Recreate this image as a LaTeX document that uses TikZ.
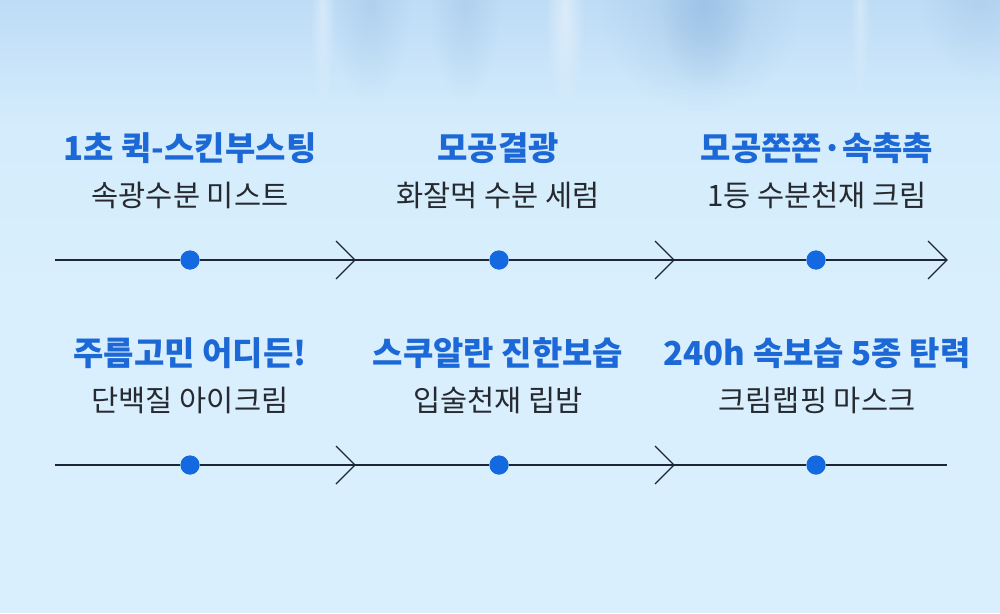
\documentclass[tikz,border=0pt]{standalone}
\usepackage{fontspec}
\setmainfont{Noto Sans CJK KR}
\usetikzlibrary{calc,fadings}
\definecolor{bgtop}{HTML}{BEDCF6}
\definecolor{bgmid}{HTML}{D4ECFC}
\definecolor{bgbot}{HTML}{D9EFFD}
\definecolor{streak}{HTML}{93BBE2}
\definecolor{titleblue}{HTML}{1B68D6}
\definecolor{subdark}{HTML}{262A30}
\definecolor{linedark}{HTML}{1E2633}
\definecolor{dotblue}{HTML}{1468E0}
\tikzfading[name=softblob, inner color=transparent!0, outer color=transparent!100]
\tikzset{
  titletext/.style={anchor=base, inner sep=0pt, text=titleblue, font=\fontsize{33}{36}\selectfont\bfseries},
  subtext/.style={anchor=base, inner sep=0pt, text=subdark, font=\fontsize{29.5}{32}\selectfont},
  dotnode/.style={circle, fill=dotblue, minimum size=19pt, inner sep=0pt},
  tline/.style={draw=linedark, line width=1.2pt},
  chev/.style={draw=linedark, line width=1.2pt, line join=miter},
  streakfill/.style={fill=streak, path fading=softblob},
}
\begin{document}
\begin{tikzpicture}[x=1pt,y=-1pt]
\useasboundingbox (0,0) rectangle (1000,613);
\begin{scope}
\clip (0,0) rectangle (1000,613);
\fill[bgbot] (0,0) rectangle (1000,613);
\shade[top color=bgtop, bottom color=bgmid] (0,0) rectangle (1000,125);
\fill[bgmid] (0,124) rectangle (1000,135);
\shade[top color=bgmid, bottom color=bgbot] (0,134) rectangle (1000,300);
% soft vertical streaks at the top
\fill[streakfill, opacity=0.35] (330,-90) rectangle (410,100);
\fill[streakfill, opacity=0.35] (430,-90) rectangle (500,100);
\fill[streakfill, opacity=0.45] (600,-90) rectangle (800,110);
\fill[streakfill, opacity=0.55] (660,-90) rectangle (750,90);
\fill[streakfill, opacity=0.35] (920,-90) rectangle (1040,80);
\fill[white, path fading=softblob, opacity=0.45] (545,-90) rectangle (585,110);
\fill[white, path fading=softblob, opacity=0.35] (310,-90) rectangle (335,110);
\fill[white, path fading=softblob, opacity=0.30] (850,-90) rectangle (870,100);
\end{scope}

% ---- row 1 texts
\node[titletext] (t1) at (190,160) {1초 퀵-스킨부스팅};
\node[subtext]   (s1) at (190,206) {속광수분 미스트};
\node[titletext] (t2) at (498,160) {모공결광};
\node[subtext]   (s2) at (498,206) {화잘먹 수분 세럼};
\node[titletext] (t3) at (817,160) {모공쫀쫀·속촉촉};
\node[subtext]   (s3) at (817,206) {1등 수분천재 크림};
% ---- row 2 texts
\node[titletext] (t4) at (190,365) {주름고민 어디든!};
\node[subtext]   (s4) at (190,411) {단백질 아이크림};
\node[titletext] (t5) at (498,365) {스쿠알란 진한보습};
\node[subtext]   (s5) at (498,411) {입술천재 립밤};
\node[titletext] (t6) at (817,365) {240h 속보습 5종 탄력};
\node[subtext]   (s6) at (817,411) {크림랩핑 마스크};

% ---- row 1 timeline
\coordinate (a0) at (55,260);
\node[dotnode] (d1) at (190,260) {};
\coordinate (a1) at (355,260);
\node[dotnode] (d2) at (499,260) {};
\coordinate (a2) at (674,260);
\node[dotnode] (d3) at (816,260) {};
\coordinate (a3) at (947,260);
\draw[tline] (a0) -- (d1) -- (a1) -- (d2) -- (a2) -- (d3) -- (a3);
\foreach \c in {a1,a2,a3}
  \draw[chev] ($(\c)+(-19,-19)$) -- (\c) -- ($(\c)+(-19,19)$);

% ---- row 2 timeline
\coordinate (b0) at (55,465);
\node[dotnode] (e1) at (190,465) {};
\coordinate (b1) at (355,465);
\node[dotnode] (e2) at (499,465) {};
\coordinate (b2) at (674,465);
\node[dotnode] (e3) at (816,465) {};
\coordinate (b3) at (947,465);
\draw[tline] (b0) -- (e1) -- (b1) -- (e2) -- (b2) -- (e3) -- (b3);
\foreach \c in {b1,b2}
  \draw[chev] ($(\c)+(-19,-19)$) -- (\c) -- ($(\c)+(-19,19)$);

% redraw dots on top
\foreach \d in {d1,d2,d3,e1,e2,e3}
  \fill[dotblue] (\d) circle (9.5);
\end{tikzpicture}
\end{document}
